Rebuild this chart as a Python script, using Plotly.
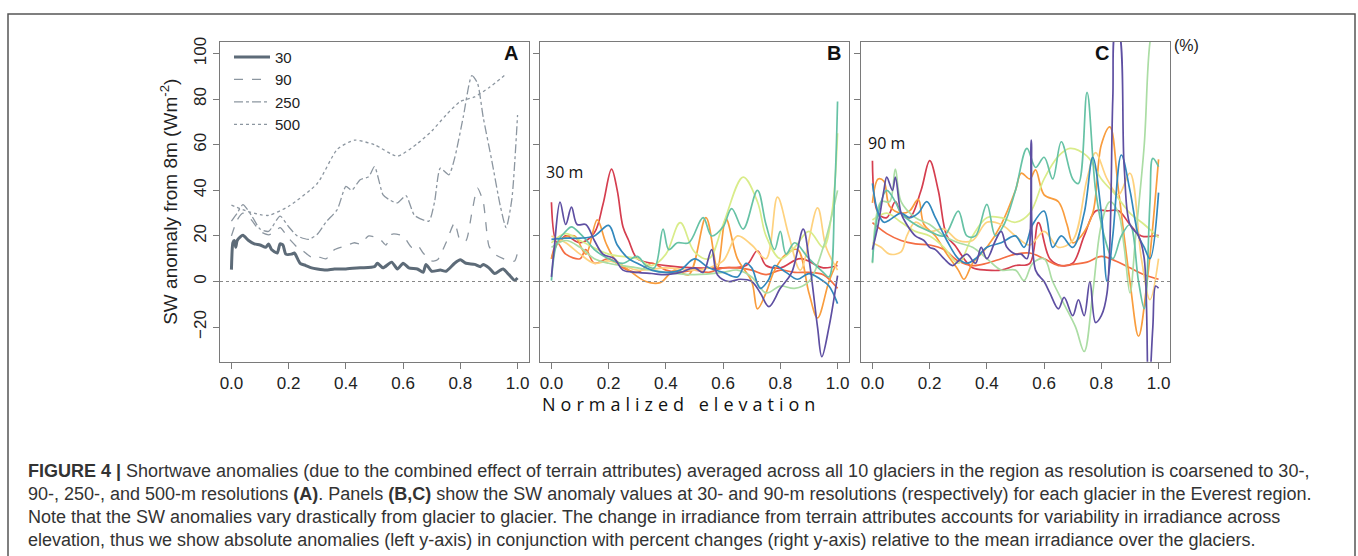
import plotly.graph_objects as go

W, H = 1358, 556

# ---------------- Panel A: region-average SW anomaly vs resolution ----------------
a_labels = ["30", "90", "250", "500"]
a30_x = [0, 0.005, 0.01, 0.015, 0.02, 0.03, 0.04, 0.06, 0.08, 0.1, 0.12, 0.13, 0.14, 0.16, 0.17, 0.18, 0.19,
         0.21, 0.22, 0.24, 0.26, 0.28, 0.3, 0.33, 0.36, 0.4, 0.45, 0.5, 0.51, 0.53, 0.56, 0.58, 0.6, 0.62,
         0.65, 0.67, 0.68, 0.7, 0.73, 0.75, 0.78, 0.8, 0.82, 0.85, 0.87, 0.88, 0.9, 0.92, 0.94, 0.95, 0.97,
         0.99, 1.0]
a30_y = [5.2, 17, 18, 15, 18, 19.5, 20.3, 18, 16.5, 16, 15, 16.5, 14, 12.5, 16.5, 16, 12,
         12, 12.5, 8, 7, 6, 5.5, 5, 5.5, 5.5, 6, 6.5, 8, 6, 8.5, 5.5, 8, 6,
         5.5, 4, 7.5, 4.5, 5, 4.5, 8, 9.5, 8, 7.5, 6.5, 7.5, 6, 3.5, 5, 5.5, 3,
         0.5, 1.5]
a90_x = [0, 0.02, 0.04, 0.07, 0.1, 0.13, 0.15, 0.17, 0.2, 0.23, 0.25, 0.28, 0.3, 0.33, 0.36, 0.4, 0.43,
         0.45, 0.48, 0.52, 0.54, 0.56, 0.6, 0.63, 0.65, 0.67, 0.7, 0.72, 0.75, 0.78, 0.8, 0.82, 0.84,
         0.86, 0.88, 0.9, 0.92, 0.95, 0.97, 0.99, 1.0]
a90_y = [20, 27, 30, 27, 22, 20.5, 21.5, 23.6, 19, 15, 13.5, 10.6, 11, 9.9, 14, 15.7, 17,
         16.5, 20, 18.5, 16, 20.7, 20, 15, 16, 12.5, 9, 9.5, 17, 25.8, 17.8, 18, 30,
         41, 35, 15.6, 12, 10, 9, 9, 12.7]
a250_x = [0, 0.02, 0.04, 0.07, 0.1, 0.13, 0.17, 0.2, 0.23, 0.27, 0.3, 0.33, 0.37, 0.4, 0.42, 0.45, 0.48,
          0.5, 0.53, 0.55, 0.58, 0.61, 0.64, 0.69, 0.71, 0.73, 0.76, 0.78, 0.81, 0.84, 0.86, 0.88, 0.91,
          0.94, 0.96, 0.98, 1.0]
a250_y = [26.5, 30, 33.7, 29, 23, 22, 28.7, 24, 20, 18.5, 20.7, 26, 31.6, 41.7, 40, 44.6, 46,
          50.4, 38, 36, 34.5, 37.7, 29, 26.5, 35, 49.7, 46.8, 54, 72, 90.3, 87, 72, 53,
          33, 23.6, 36, 73]
a500_x = [0, 0.05, 0.1, 0.13, 0.2, 0.3, 0.37, 0.43, 0.5, 0.58, 0.65, 0.7, 0.75, 0.8, 0.85, 0.9, 0.96]
a500_y = [33.5, 31, 29.3, 29, 33, 43, 58, 62, 60, 55, 60.5, 66, 73, 79, 81, 85, 91]

# ---------------- Panels B (30 m) and C (90 m): individual glaciers ----------------
glacier_colors = ["#d53e4f", "#f46d43", "#f99d3e", "#fed27f", "#d9ec8a",
                  "#abdda4", "#66c2a5", "#3288bd", "#5e4fa2"]

b_x = {
    "crimson": [0, 0.02, 0.05, 0.1, 0.15, 0.18, 0.21, 0.23, 0.25, 0.27, 0.3, 0.35, 0.4, 0.5, 0.6, 0.68, 0.72,
                0.75, 0.8, 0.87, 0.95, 1.0],
    "redorange": [0, 0.02, 0.05, 0.1, 0.12, 0.15, 0.2, 0.25, 0.3, 0.35, 0.4, 0.45, 0.5, 0.55, 0.6, 0.65, 0.7,
                  0.75, 0.8, 0.85, 0.9, 0.95, 1.0],
    "orange": [0, 0.03, 0.08, 0.12, 0.16, 0.19, 0.22, 0.27, 0.33, 0.38, 0.43, 0.48, 0.54, 0.58, 0.61, 0.65,
               0.7, 0.72, 0.75, 0.78, 0.82, 0.86, 0.9, 0.93, 0.97, 1.0],
    "lightorange": [0, 0.05, 0.1, 0.15, 0.2, 0.25, 0.3, 0.4, 0.5, 0.55, 0.6, 0.65, 0.7, 0.75, 0.79, 0.83,
                    0.87, 0.93, 0.96, 1.0],
    "yellowgreen": [0, 0.05, 0.1, 0.2, 0.3, 0.35, 0.4, 0.45, 0.5, 0.55, 0.6, 0.67, 0.72, 0.75, 0.8, 0.85,
                    0.9, 0.95, 0.98, 1.0],
    "lightgreen": [0, 0.05, 0.1, 0.15, 0.2, 0.3, 0.4, 0.5, 0.6, 0.65, 0.7, 0.75, 0.8, 0.85, 0.9, 0.95, 1.0],
    "teal": [0, 0.02, 0.05, 0.07, 0.1, 0.13, 0.15, 0.2, 0.25, 0.3, 0.33, 0.36, 0.39, 0.41, 0.44, 0.48, 0.53,
             0.56, 0.6, 0.63, 0.67, 0.72, 0.75, 0.78, 0.8, 0.82, 0.85, 0.9, 0.95, 0.97, 0.99, 1.0],
    "blue": [0, 0.05, 0.1, 0.15, 0.2, 0.23, 0.27, 0.3, 0.35, 0.4, 0.45, 0.5, 0.55, 0.6, 0.65, 0.68, 0.7, 0.73,
             0.76, 0.78, 0.82, 0.86, 0.9, 0.94, 0.97, 1.0],
    "purple": [0, 0.01, 0.03, 0.05, 0.07, 0.09, 0.12, 0.15, 0.18, 0.22, 0.25, 0.3, 0.35, 0.4, 0.45, 0.5, 0.53,
               0.56, 0.58, 0.62, 0.66, 0.7, 0.73, 0.76, 0.8, 0.84, 0.88, 0.9, 0.93, 0.945, 0.97, 1.0],
}
b_y = {
    "crimson": [34.8, 17, 20, 17, 21.4, 33.8, 49.3, 40, 24, 18, 10, 8, 7, 6, 6, 7, 13.5,
                7, 6, 10, 6, 7],
    "redorange": [10, 17, 12, 10, 14, 8, 10, 6, 4, 8, 5, 4, 5, 4, 6, 6, 5,
                  3, 5, 4, 4, 3, -3],
    "orange": [10, 18, 20, 12, 27, 17, 10, 5, 0, -0.5, 5, 3, 28, 6, 27.5, 10,
               0, -12, -5, 5, 12, 14, -5, -16, 0, 9],
    "lightorange": [20, 17, 12, 8, 9, 7, 5, 6, 5, 6, 9, 20, 16, 10, 37, 20,
                    5, 32.3, 15, 5],
    "yellowgreen": [17, 21, 18, 12, 10, 7, 12, 25.8, 13, 10, 25, 45.8, 35, 20, 10, 15,
                    22, 15, 30, 65],
    "lightgreen": [15, 18, 15, 10, 8, 6, 4, 3, 4, 5, 2, -5, -2, -3, 0, 15, 40],
    "teal": [0.4, 17, 22, 24, 21, 17, 14, 10, 8, 11, 7, 6, 23, 14, 17, 17, 28,
             20, 24, 32, 23, 40, 25, 14, 22, 12, 17, 10, 4, 2, 40, 79],
    "blue": [18.5, 19, 19, 20, 24.6, 16, 10, 8, 5, 4, 5, 9.9, 6, 4, 2, 8, 6, -3,
             1, 7, 4, 1, 3.5, 1, -2, -9.7],
    "purple": [2, 15, 34.8, 25, 32.6, 25, 25, 18, 12, 10, 5, 4, 3.5, 3, 4, 6, 4,
               14, 3, 0, 1, 0, -5, -11, -3, 4, 23, 10, -20, -33, -20, 2.6],
}

c_x = {
    "crimson": [0, 0.02, 0.05, 0.08, 0.1, 0.13, 0.17, 0.2, 0.23, 0.26, 0.29, 0.32, 0.35, 0.4, 0.45, 0.5, 0.55,
                0.58, 0.62, 0.66, 0.7, 0.74, 0.78, 0.82, 0.86, 0.9, 0.94, 1.0],
    "redorange": [0, 0.05, 0.1, 0.15, 0.2, 0.25, 0.3, 0.35, 0.4, 0.45, 0.5, 0.55, 0.6, 0.65, 0.7, 0.75, 0.8,
                  0.85, 0.9, 0.95, 1.0],
    "orange": [0, 0.02, 0.04, 0.06, 0.1, 0.13, 0.16, 0.18, 0.22, 0.26, 0.3, 0.32, 0.35, 0.4, 0.45, 0.5, 0.52,
               0.55, 0.57, 0.6, 0.65, 0.68, 0.7, 0.73, 0.77, 0.8, 0.83, 0.86, 0.9, 0.93, 0.96, 1.0],
    "lightorange": [0, 0.03, 0.06, 0.1, 0.12, 0.15, 0.2, 0.25, 0.3, 0.35, 0.4, 0.45, 0.5, 0.55, 0.6, 0.65,
                    0.7, 0.75, 0.78, 0.82, 0.86, 0.9, 0.94, 0.97, 1.0],
    "yellowgreen": [0, 0.05, 0.1, 0.15, 0.2, 0.25, 0.3, 0.35, 0.4, 0.45, 0.5, 0.55, 0.6, 0.65, 0.69, 0.75,
                    0.8, 0.85, 0.9, 0.95, 1.0],
    "lightgreen": [0, 0.03, 0.06, 0.08, 0.1, 0.15, 0.2, 0.25, 0.3, 0.35, 0.4, 0.45, 0.5, 0.53, 0.56, 0.6, 0.63,
                   0.67, 0.71, 0.74, 0.77, 0.8, 0.83, 0.86, 0.88, 0.9, 0.92, 0.95, 0.97, 1.0],
    "teal": [0, 0.02, 0.05, 0.08, 0.1, 0.15, 0.2, 0.25, 0.3, 0.33, 0.36, 0.4, 0.43, 0.46, 0.5, 0.54, 0.57,
             0.6, 0.63, 0.66, 0.7, 0.72, 0.75, 0.78, 0.81, 0.84, 0.87, 0.9, 0.93, 0.95, 0.97, 0.98, 1.0],
    "blue": [0, 0.02, 0.04, 0.06, 0.1, 0.13, 0.16, 0.19, 0.22, 0.26, 0.3, 0.33, 0.36, 0.4, 0.45, 0.5, 0.53,
             0.56, 0.6, 0.63, 0.66, 0.7, 0.74, 0.77, 0.8, 0.82, 0.84, 0.87, 0.9, 0.93, 0.95, 0.97, 1.0],
    "purple": [0, 0.02, 0.04, 0.05, 0.07, 0.08, 0.1, 0.12, 0.15, 0.18, 0.2, 0.22, 0.25, 0.28, 0.3, 0.33, 0.36,
               0.38, 0.4, 0.43, 0.45, 0.47, 0.5, 0.52, 0.54, 0.555, 0.57, 0.6, 0.62, 0.65, 0.67, 0.7, 0.72,
               0.74, 0.76, 0.78, 0.8, 0.82, 0.84, 0.85, 0.86, 0.88, 0.9, 0.93, 0.95, 0.965, 0.98, 0.99, 1.0],
}
c_y = {
    "crimson": [53, 30, 28, 35, 30, 28, 40, 53, 40, 20, 15.6, 10, 6, 5, 5, 7, 8,
                25.8, 10, 7, 8, 20, 30.9, 31, 31, 25, 20, 20.3],
    "redorange": [25.8, 21, 18, 16.5, 16, 14, 9, 7, 8, 10, 12, 12.5, 10, 7, 7.5, 8.5, 11,
                  9, 6, 3, 1],
    "orange": [34.5, 45, 44, 33, 30, 31, 36, 25, 20, 12, 5, 1, 8, 15, 25, 40, 47.5,
               45, 49, 38, 35, 25, 17, 20, 30, 60, 67.8, 40, 0, -24, 0, 53.6],
    "lightorange": [17, 15, 12, 13, 20, 26, 22, 23, 18, 18, 26, 25, 20, 16, 22, 15,
                    18, 45, 56.5, 45, 38, 47.5, 10, -8, 10],
    "yellowgreen": [27, 30, 26, 22, 20, 15, 8, 20, 28, 28, 26, 30, 45, 55, 58.4, 55,
                    45, 38, 30, 25, 19.3],
    "lightgreen": [8, 35, 35, 49.3, 35, 28, 25, 20, 17, 15, 10, 5, 5, 0.4, 8, 10, 0,
                   -10, -20, -30.7, -5, 25, 35, 30, 15, -5, 20, 60, 105, 125],
    "teal": [8.4, 30, 40, 35, 30, 25, 22, 20, 30.9, 20, 20, 33.8, 20, 25, 40, 58.4, 50,
             54.5, 45, 61.3, 45, 43, 83, 40, 20, 10, 20, 25, 0, -11.9, 35, 54, 50.4],
    "blue": [43, 30, 26, 27, 30, 28, 30, 35, 28, 18, 10, 8, 10, 15, 17, 20, 15,
             25, 30.9, 15, 20, 15, 30, 54.5, 30, 0, 20, 55.5, 40, 20, 15, 10, 39],
    "purple": [14, 25, 40, 45.8, 40, 45.8, 30, 25, 20, 18, 15, 14, 10, 7, 9, 12, 8,
               15, 10, 18, 22, 15, 12, 12, 10, 62, 5, 0, -5, -12, -7, -15, -8,
               -15, 0, -18, -15, -5, 80, 110, 110, 50, 25, 20, 10, -50, -20, -2, -3],
}
glacier_order = ["crimson", "redorange", "orange", "lightorange", "yellowgreen",
                 "lightgreen", "teal", "blue", "purple"]

x_ticks = [0.0, 0.2, 0.4, 0.6, 0.8, 1.0]
x_ticktext = ["0.0", "0.2", "0.4", "0.6", "0.8", "1.0"]
y_ticks = [-20, 0, 20, 40, 60, 80, 100]
pct_ticks = [-10, 0, 10, 20, 30]

# ---------------- figure ----------------
def px_x(p):
    return p / W

def px_y(p):
    return 1 - p / H

fig = go.Figure()

gray_dark = "#5d6b78"
gray_light = "#8c96a0"
a_series = [(a30_x, a30_y, "solid", 3.0, gray_dark),
            (a90_x, a90_y, "dash", 1.3, gray_light),
            (a250_x, a250_y, "dashdot", 1.3, gray_light),
            (a500_x, a500_y, "dot", 1.3, gray_light)]
for (xs, ys, dash, wdt, col), lab in zip(a_series, a_labels):
    fig.add_trace(go.Scatter(x=xs, y=ys, mode="lines", name=lab, xaxis="x", yaxis="y",
                             line=dict(color=col, width=wdt, dash=dash, shape="spline", smoothing=0.6)))

for key, col in zip(glacier_order, glacier_colors):
    fig.add_trace(go.Scatter(x=b_x[key], y=b_y[key], mode="lines", showlegend=False,
                             xaxis="x2", yaxis="y2",
                             line=dict(color=col, width=1.7, shape="spline", smoothing=1.0)))
for key, col in zip(glacier_order, glacier_colors):
    fig.add_trace(go.Scatter(x=c_x[key], y=c_y[key], mode="lines", showlegend=False,
                             xaxis="x3", yaxis="y3",
                             line=dict(color=col, width=1.7, shape="spline", smoothing=1.0)))

yr = [-35.2, 105.2]
xr = [-0.04, 1.04]
axis_line = "#7a7a7a"
tickfont = dict(family="Liberation Sans, Arial, sans-serif", size=17, color="#222")

def xaxis(dom, anchor):
    return dict(domain=dom, anchor=anchor, range=xr, tickvals=x_ticks, ticktext=x_ticktext,
                showgrid=False, zeroline=False, showline=True, mirror=True, linecolor=axis_line,
                linewidth=1, ticks="outside", ticklen=6, tickcolor=axis_line, tickfont=tickfont)

def yaxis(anchor, labels):
    return dict(domain=[px_y(360), px_y(37)], anchor=anchor, range=yr, tickvals=y_ticks,
                showgrid=False, zeroline=False, showline=True, mirror=True, linecolor=axis_line,
                linewidth=1, ticks="outside", ticklen=6, tickcolor=axis_line,
                showticklabels=labels, tickangle=-90, tickfont=tickfont)

ya = yaxis("x", True)
ya["title"] = dict(text="SW anomaly from 8m (Wm<sup>-2</sup>)",
                   font=dict(family="Liberation Sans, Arial, sans-serif", size=19, color="#222"),
                   standoff=8)

fig.update_layout(
    width=W, height=H, margin=dict(l=0, r=0, t=0, b=0),
    paper_bgcolor="white", plot_bgcolor="white",
    xaxis=xaxis([px_x(220), px_x(529)], "y"),
    xaxis2=xaxis([px_x(540), px_x(849)], "y2"),
    xaxis3=xaxis([px_x(861), px_x(1170)], "y3"),
    yaxis=ya,
    yaxis2=yaxis("x2", False),
    yaxis3=yaxis("x3", False),
    yaxis4=dict(domain=[px_y(360), px_y(37)], anchor="x3", overlaying="y3", side="right",
                range=[yr[0] / 3, yr[1] / 3], tickvals=pct_ticks, showgrid=False, zeroline=False,
                showline=True, linecolor=axis_line, linewidth=1, ticks="outside", ticklen=6,
                tickcolor=axis_line, tickangle=-90, tickfont=tickfont),
    legend=dict(x=px_x(229), y=px_y(36), xanchor="left", yanchor="top",
                bgcolor="rgba(0,0,0,0)", font=dict(family="Liberation Sans, Arial, sans-serif",
                                                    size=15, color="#222"),
                tracegroupgap=0, itemwidth=36),
    showlegend=True,
)

shapes = []
for xa, ya_ in [("x", "y"), ("x2", "y2"), ("x3", "y3")]:
    shapes.append(dict(type="line", xref=xa + " domain", yref=ya_, x0=0, x1=1, y0=0, y1=0,
                       line=dict(color="#888", width=1, dash="dot")))
# outer figure frame
shapes.append(dict(type="rect", xref="paper", yref="paper", x0=px_x(8), x1=px_x(1355),
                   y0=-0.05, y1=px_y(9), line=dict(color="#555", width=1.5)))
fig.update_layout(shapes=shapes)

ann = []
bold = dict(family="Liberation Sans, Arial, sans-serif", size=20, color="#111")
for t, xp in [("A", 511), ("B", 834), ("C", 1102)]:
    ann.append(dict(text="<b>%s</b>" % t, x=px_x(xp), y=px_y(48), xref="paper", yref="paper",
                    xanchor="center", yanchor="middle", showarrow=False, font=bold))
ann.append(dict(text="(%)", x=px_x(1172), y=px_y(41), xref="paper", yref="paper",
                xanchor="left", yanchor="middle", showarrow=False,
                font=dict(family="Liberation Sans, Arial, sans-serif", size=16, color="#222")))
lab_font = dict(family="Open Sans, sans-serif", size=16, color="#111")
ann.append(dict(text="30 m", x=px_x(544), y=px_y(169), xref="paper", yref="paper",
                xanchor="left", yanchor="middle", showarrow=False, font=lab_font))
ann.append(dict(text="90 m", x=px_x(866), y=px_y(139), xref="paper", yref="paper",
                xanchor="left", yanchor="middle", showarrow=False, font=lab_font))
ann.append(dict(text="Normalized elevation", x=px_x(681), y=px_y(403), xref="paper", yref="paper",
                xanchor="center", yanchor="middle", showarrow=False,
                font=dict(family="Open Sans, sans-serif", size=18, color="#111")))

caption = [
    "<b>FIGURE 4 |</b> Shortwave anomalies (due to the combined effect of terrain attributes) averaged across all 10 glaciers in the region as resolution is coarsened to 30-,",
    "90-, 250-, and 500-m resolutions <b>(A)</b>. Panels <b>(B,C)</b> show the SW anomaly values at 30- and 90-m resolutions (respectively) for each glacier in the Everest region.",
    "Note that the SW anomalies vary drastically from glacier to glacier. The change in irradiance from terrain attributes accounts for variability in irradiance across",
    "elevation, thus we show absolute anomalies (left y-axis) in conjunction with percent changes (right y-axis) relative to the mean irradiance over the glaciers.",
]
cap_font = dict(family="Liberation Sans, Arial, sans-serif", size=18, color="#333")
for i, line in enumerate(caption):
    ann.append(dict(text=line, x=px_x(26), y=px_y(470 + 23.3 * i), xref="paper", yref="paper",
                    xanchor="left", yanchor="middle", showarrow=False, font=cap_font))
fig.update_layout(annotations=ann)

post = """
document.body.style.margin='0';
document.body.style.overflow='hidden';
document.querySelectorAll('text').forEach(function(t){
  if (t.textContent === 'Normalized elevation') { t.style.letterSpacing = '5px'; }
});
"""
fig.write_html("out.html", config={"displayModeBar": False}, post_script=post)
